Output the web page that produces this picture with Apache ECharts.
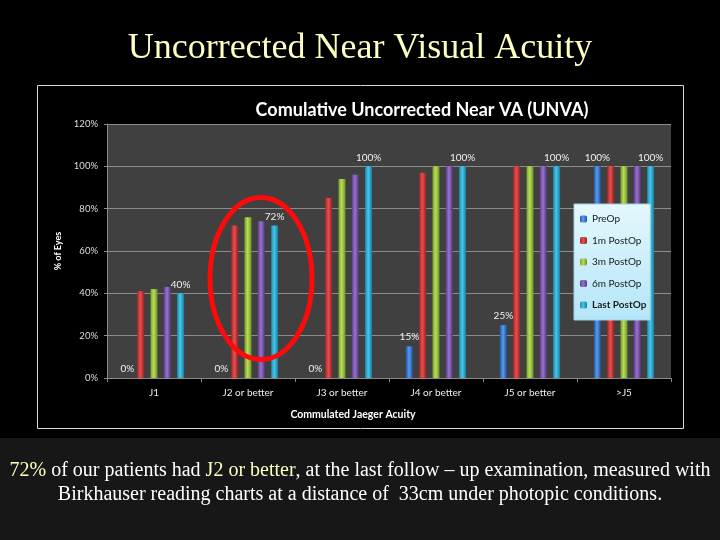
<!DOCTYPE html>
<html>
<head>
<meta charset="utf-8">
<script src="https://cdn.jsdelivr.net/npm/echarts@6/dist/echarts.min.js"></script>
<style>
html,body{margin:0;padding:0;background:#000;}
#c{width:720px;height:540px;}
</style>
</head>
<body>
<div id="c"></div>
<script>
var categories = ['J1', 'J2 or better', 'J3 or better', 'J4 or better', 'J5 or better', '>J5'];
var seriesNames = ['PreOp', '1m PostOp', '3m PostOp', '6m PostOp', 'Last PostOp'];
var preOp = [0, 0, 0, 15, 25, 100];
var m1PostOp = [41, 72, 85, 97, 100, 100];
var m3PostOp = [42, 76, 94, 100, 100, 100];
var m6PostOp = [43, 74, 96, 100, 100, 100];
var lastPostOp = [40, 72, 100, 100, 100, 100];
var yTicks = [0, 20, 40, 60, 80, 100, 120];

var values = [preOp, m1PostOp, m3PostOp, m6PostOp, lastPostOp];
var colors = [
  ['#1f5aa8', '#5a9cf0', '#1d4f96'],
  ['#a82424', '#e85050', '#962020'],
  ['#7aa028', '#b8de58', '#6e9224'],
  ['#5c3c8c', '#9a74cc', '#523480'],
  ['#1888ac', '#48c8ec', '#167c9c']
];
var showLabel = [true, false, false, false, true];

var chart = echarts.init(document.getElementById('c'), null, {renderer: 'canvas'});

var series = seriesNames.map(function (name, i) {
  return {
    name: name,
    type: 'bar',
    data: values[i],
    barWidth: 7,
    barGap: '90%',
    itemStyle: {
      color: new echarts.graphic.LinearGradient(0, 0, 1, 0, [
        {offset: 0, color: colors[i][0]},
        {offset: 0.45, color: colors[i][1]},
        {offset: 1, color: colors[i][2]}
      ])
    },
    label: {
      show: showLabel[i],
      position: 'top',
      distance: 4,
      color: '#f0f0f0',
      fontFamily: 'Lato, sans-serif',
      fontSize: 10,
      formatter: '{c}%'
    },
    emphasis: {disabled: true}
  };
});

var option = {
  backgroundColor: '#000',
  animation: false,
  color: colors.map(function (c) { return c[1]; }),
  title: [
    {
      text: 'Uncorrected Near Visual Acuity',
      left: 'center', top: 26,
      textStyle: {color: '#ffffc0', fontFamily: 'Liberation Serif, serif', fontWeight: 'normal', fontSize: 36}
    },
    {
      text: 'Comulative Uncorrected Near VA (UNVA)',
      left: 417, top: 96, textAlign: 'center',
      textStyle: {color: '#ffffff', fontFamily: 'Lato, sans-serif', fontWeight: 'bold', fontSize: 18}
    },
    {
      text: 'Commulated Jaeger Acuity',
      left: 348, top: 404, textAlign: 'center',
      textStyle: {color: '#ffffff', fontFamily: 'Lato, sans-serif', fontWeight: 'bold', fontSize: 10.5}
    }
  ],
  legend: {
    orient: 'vertical',
    left: 574, top: 204,
    padding: [10, 4, 10, 6],
    itemWidth: 7, itemHeight: 7,
    itemGap: 11.5,
    backgroundColor: new echarts.graphic.LinearGradient(0, 0, 0, 1, [
      {offset: 0, color: '#e4f8fe'},
      {offset: 1, color: '#b4e6f8'}
    ]),
    borderColor: '#a0d0e0', borderWidth: 1,
    textStyle: {color: '#1a1a1a', fontFamily: 'Lato, sans-serif', fontSize: 10},
    data: seriesNames.map(function (n, i) {
      return i === 4 ? {name: n, textStyle: {fontWeight: 'bold'}} : {name: n};
    })
  },
  grid: {
    left: 107, right: 49, top: 124, bottom: 162,
    show: true, backgroundColor: '#404040', borderWidth: 0
  },
  xAxis: {
    type: 'category',
    data: categories,
    axisLine: {lineStyle: {color: '#8a8a8a', width: 1}},
    axisTick: {show: true, length: 4, lineStyle: {color: '#8a8a8a'}},
    axisLabel: {color: '#eeeeee', fontFamily: 'Lato, sans-serif', fontSize: 10, margin: 10}
  },
  yAxis: {
    type: 'value',
    min: yTicks[0], max: yTicks[yTicks.length - 1], interval: yTicks[1] - yTicks[0],
    name: '% of Eyes', nameLocation: 'middle', nameRotate: 90, nameGap: 44,
    nameTextStyle: {color: '#ffffff', fontFamily: 'Lato, sans-serif', fontWeight: 'bold', fontSize: 9},
    axisLine: {show: true, lineStyle: {color: '#8a8a8a'}},
    axisTick: {show: true, length: 3, lineStyle: {color: '#8a8a8a'}},
    axisLabel: {color: '#dddddd', fontFamily: 'Lato, sans-serif', fontSize: 9.5, margin: 9, formatter: '{value}%'},
    splitLine: {lineStyle: {color: '#8c8c8c', width: 1}}
  },
  series: series,
  graphic: [
    {type: 'rect', silent: true, z: -10, shape: {x: 0, y: 438, width: 720, height: 102}, style: {fill: '#171717'}},
    {type: 'rect', silent: true, z: -5, shape: {x: 37.5, y: 85.5, width: 646, height: 343}, style: {fill: 'none', stroke: '#d8d8d8', lineWidth: 1}},
    {type: 'ellipse', silent: true, z: 100, shape: {cx: 261, cy: 278.5, rx: 51, ry: 81}, style: {fill: 'none', stroke: '#ff0a0a', lineWidth: 5}},
    {
      type: 'text', silent: true, left: 'center', top: 461,
      style: {
        text: '{y|72%} of our patients had {y|J2 or better}, at the last follow – up examination, measured with',
        fill: '#ffffff', font: '20px "Liberation Serif", serif',
        rich: {y: {fill: '#ffffc0', font: '20px "Liberation Serif", serif'}}
      }
    },
    {
      type: 'text', silent: true, left: 'center', top: 485,
      style: {
        text: 'Birkhauser reading charts at a distance of  33cm under photopic conditions.',
        fill: '#ffffff', font: '20px "Liberation Serif", serif'
      }
    }
  ]
};
chart.setOption(option);
</script>
</body>
</html>
